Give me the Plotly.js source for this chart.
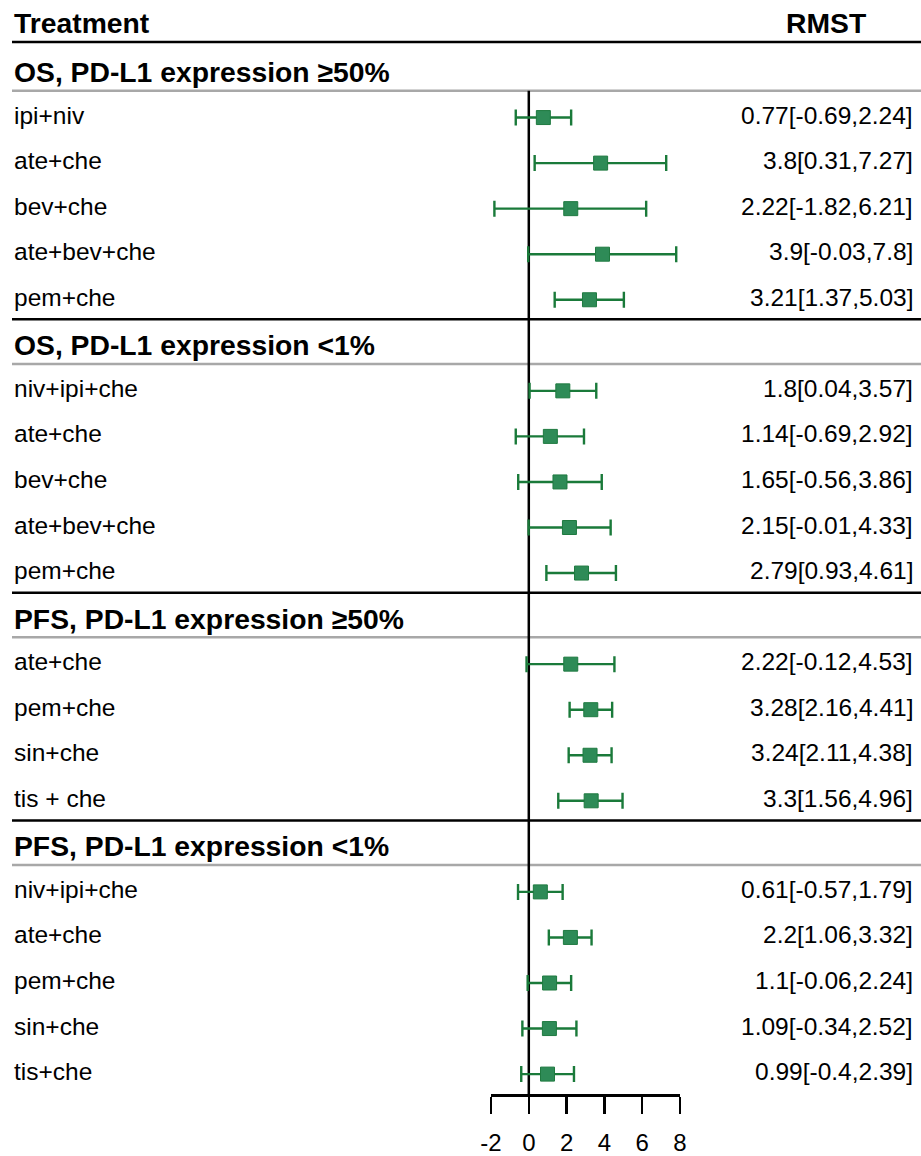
<!DOCTYPE html>
<html>
<head>
<meta charset="utf-8">
<script src="https://cdn.plot.ly/plotly-3.0.1.min.js"></script>
<style>html,body{margin:0;padding:0;background:#fff;}#chart{width:921px;height:1156px;}</style>
</head>
<body>
<div id="chart"></div>
<script>
// ---- data ----
const groupTitles = [
  "OS, PD-L1 expression \u226550%",
  "OS, PD-L1 expression <1%",
  "PFS, PD-L1 expression \u226550%",
  "PFS, PD-L1 expression <1%"
];
const treatments = [
  ["ipi+niv", "ate+che", "bev+che", "ate+bev+che", "pem+che"],
  ["niv+ipi+che", "ate+che", "bev+che", "ate+bev+che", "pem+che"],
  ["ate+che", "pem+che", "sin+che", "tis + che"],
  ["niv+ipi+che", "ate+che", "pem+che", "sin+che", "tis+che"]
];
const rmst = [
  [0.77, 3.8, 2.22, 3.9, 3.21],
  [1.8, 1.14, 1.65, 2.15, 2.79],
  [2.22, 3.28, 3.24, 3.3],
  [0.61, 2.2, 1.1, 1.09, 0.99]
];
const lower = [
  [-0.69, 0.31, -1.82, -0.03, 1.37],
  [0.04, -0.69, -0.56, -0.01, 0.93],
  [-0.12, 2.16, 2.11, 1.56],
  [-0.57, 1.06, -0.06, -0.34, -0.4]
];
const upper = [
  [2.24, 7.27, 6.21, 7.8, 5.03],
  [3.57, 2.92, 3.86, 4.33, 4.61],
  [4.53, 4.41, 4.38, 4.96],
  [1.79, 3.32, 2.24, 2.52, 2.39]
];
const tickVals = [-2, 0, 2, 4, 6, 8];
const colTitles = ["Treatment", "RMST"];

// ---- layout helpers ----
const W = 921, H = 1156;
const slotPx = 45.55, slot0Px = 72;         // pixel of slot 0
const toSlot = px => (px - slot0Px) / slotPx;
const FONT = "Liberation Sans, Arial, sans-serif";

const xs = [], ys = [], ep = [], em = [];
const annotations = [];
const shapes = [];
let slot = 0;
groupTitles.forEach((g, gi) => {
  const headerSlot = slot;
  annotations.push({xref:'paper', yref:'y', x:12/W, y:headerSlot, xanchor:'left', yanchor:'middle',
    text:'<b>'+g+'</b>', showarrow:false, font:{family:FONT, size:28.3, color:'#000'}});
  shapes.push({type:'line', xref:'paper', yref:'y', x0:12/W, x1:1, y0:headerSlot+0.41, y1:headerSlot+0.41,
    line:{color:'#a8a8a8', width:2.5}, layer:'below'});
  if (gi > 0) {
    shapes.push({type:'line', xref:'paper', yref:'y', x0:12/W, x1:1, y0:headerSlot-0.57, y1:headerSlot-0.57,
      line:{color:'#000', width:2.5}, layer:'below'});
  }
  slot++;
  treatments[gi].forEach((t, i) => {
    xs.push(rmst[gi][i]);
    ys.push(slot);
    ep.push(+(upper[gi][i] - rmst[gi][i]).toFixed(4));
    em.push(+(rmst[gi][i] - lower[gi][i]).toFixed(4));
    annotations.push({xref:'paper', yref:'y', x:12/W, y:slot, xanchor:'left', yanchor:'middle', yshift:2.5,
      text:t, showarrow:false, font:{family:FONT, size:24.5, color:'#000'}});
    annotations.push({xref:'paper', yref:'y', x:915/W, y:slot, xanchor:'right', yanchor:'middle', yshift:2.5,
      text:rmst[gi][i]+'['+lower[gi][i]+','+upper[gi][i]+']', showarrow:false,
      font:{family:FONT, size:24.5, color:'#000'}});
    slot++;
  });
});

// column titles and top rule
annotations.push({xref:'paper', yref:'y', x:12/W, y:toSlot(23), xanchor:'left', yanchor:'middle',
  text:'<b>'+colTitles[0]+'</b>', showarrow:false, font:{family:FONT, size:28.3, color:'#000'}});
annotations.push({xref:'paper', yref:'y', x:868/W, y:toSlot(23), xanchor:'right', yanchor:'middle',
  text:'<b>'+colTitles[1]+'</b>', showarrow:false, font:{family:FONT, size:28.3, color:'#000'}});
shapes.push({type:'line', xref:'paper', yref:'y', x0:12/W, x1:1, y0:toSlot(42), y1:toSlot(42),
  line:{color:'#000', width:2.5}, layer:'below'});
// reference line at 0
shapes.push({type:'line', xref:'x', yref:'y', x0:0, x1:0, y0:0.41, y1:toSlot(1096),
  line:{color:'#000', width:2.5}, layer:'below'});

const trace = {
  type:'scatter', mode:'markers', x:xs, y:ys, cliponaxis:false,
  marker:{symbol:'square', size:14, color:'#2e8b57', line:{color:'#1f7a40', width:1}},
  error_x:{type:'data', symmetric:false, array:ep, arrayminus:em, color:'#1a7a3a', thickness:2.4, width:8},
  hoverinfo:'skip'
};

const layout = {
  width:W, height:H, margin:{l:0, r:0, t:0, b:0},
  paper_bgcolor:'#fff', plot_bgcolor:'rgba(0,0,0,0)',
  showlegend:false,
  xaxis:{domain:[491/W, 680/W], range:[-2, 8], anchor:'free', position:1-1095/H,
    showline:true, linecolor:'#000', linewidth:2.5, showgrid:false, zeroline:false,
    ticks:'outside', ticklen:17, tickwidth:2.5, tickcolor:'#000', tickvals:tickVals,
    ticktext:tickVals.map(String), ticklabelstandoff:9,
    tickfont:{family:FONT, size:24, color:'#000'}, fixedrange:true},
  yaxis:{domain:[0,1], range:[toSlot(H), toSlot(0)], visible:false, showgrid:false, zeroline:false, fixedrange:true},
  annotations:annotations, shapes:shapes
};

Plotly.newPlot('chart', [trace], layout, {displayModeBar:false, staticPlot:true});
</script>
</body>
</html>
